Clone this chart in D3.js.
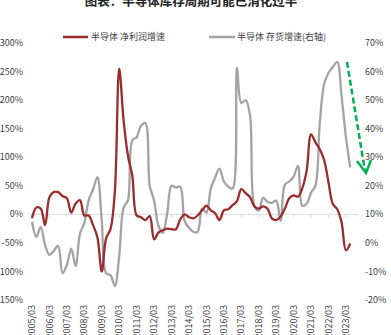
<!DOCTYPE html>
<html>
<head>
<meta charset="utf-8">
<script src="https://cdn.jsdelivr.net/npm/d3@7"></script>
<style>
  html, body { margin: 0; padding: 0; background: #fff; }
  svg { display: block; font-family: "Noto Sans CJK SC", "Noto Sans", sans-serif; }
</style>
</head>
<body>
<svg id="chart" width="391" height="335"></svg>
<script>
// Quarterly periods 2005/03 .. 2023/06
const startYear = 2005;
const quarterCount = 74;
const periods = d3.range(quarterCount).map(i => {
  const y = startYear + Math.floor(i / 4);
  const m = [3, 6, 9, 12][i % 4];
  return y + "/" + String(m).padStart(2, "0");
});

// 半导体 净利润增速 (%), left axis
const profitGrowth = [
  -7, 12, 10, -19, 30, 39, 39, 32, 28, 3,
  19, 25, -2, -2, -19, -40, -100, -42, -26, 40,
  255, 165, 103, 68, -2, -5, -10, -3, -44, -32,
  -28, -25, -26, -26, -9, 0, -5, -7, -2, 7,
  15, 7, 2, -10, 7, 9, 16, 23, 44, 37,
  30, 14, 10, 14, 10, -7, -10, -4, 10, 28,
  33, 31, 46, 77, 140, 126, 114, 95, 56, 18,
  9, -14, -63, -51
];

// 半导体 存货增速 (%), right axis
const inventoryGrowth = [
  7.4, 2.1, 5.6, -0.7, -4.2, -2.8, -1, -10.6, -7.7, -2,
  -8.1, 3.2, 7, 15, 18.7, 23, 7.7, -10.6, -11.3, -15.1,
  -4.6, 12.3, 15, 35.9, 37, 41, 42, 20, 14.8, 6,
  3.5, 10.2, 20, 19.4, 19.7, 7.7, 5.3, 3.9, 3.9, 12,
  10.6, 19, 22.9, 26, 21.5, 19.7, 19, 61.3, 49, 50,
  44.7, 13, 11.3, 15.8, 14.4, 14, 14.8, 7.7, 20.4, 21.5,
  23.2, 27, 13, 13.7, 17.6, 20, 42, 55.6, 59.5, 61.6,
  63.4, 51.4, 37, 26.4
];

const tickLabels = ["2005/03","2006/03","2007/03","2008/03","2009/03","2010/03",
  "2011/03","2012/03","2013/03","2014/03","2015/03","2016/03","2017/03",
  "2018/03","2019/03","2020/03","2021/03","2022/03","2023/03"];
const leftTicks = [300, 250, 200, 150, 100, 50, 0, -50, -100, -150];
const rightTicks = [70, 60, 50, 40, 30, 20, 10, 0, -10, -20];

const seriesNames = ["半导体 净利润增速", "半导体 存货增速(右轴)"];
const colors = ["#9a2c2e", "#a3a3a3"];

const svg = d3.select("#chart");
const plotTop = 43, plotBottom = 300;

const x = d3.scaleLinear().domain([0, quarterCount - 1]).range([32, 350.3]);
const yL = d3.scaleLinear().domain([-150, 300]).range([plotBottom, plotTop]);
const yR = d3.scaleLinear().domain([-20, 70]).range([plotBottom, plotTop]);

// Title (top part sits above the frame)
svg.append("text")
  .attr("x", 191).attr("y", 6)
  .attr("text-anchor", "middle")
  .attr("font-size", 12.5).attr("font-weight", "bold").attr("fill", "#222")
  .text("图表：半导体库存周期可能已消化过半");

// Legend
const legend = [{x0: 63, x1: 88, tx: 91}, {x0: 209, x1: 235, tx: 237}];
legend.forEach((l, k) => {
  svg.append("line").attr("x1", l.x0).attr("x2", l.x1).attr("y1", 37).attr("y2", 37)
    .attr("stroke", colors[k]).attr("stroke-width", 2.5);
  svg.append("text").attr("x", l.tx).attr("y", 37).attr("dy", "0.35em")
    .attr("font-size", 9).attr("fill", "#404040").text(seriesNames[k]);
});

// Left axis labels
svg.append("g").selectAll("text").data(leftTicks).join("text")
  .attr("x", 23).attr("y", d => yL(d)).attr("dy", "0.35em")
  .attr("text-anchor", "end").attr("font-size", 9).attr("fill", "#404040")
  .text(d => d + "%");

// Right axis labels
svg.append("g").selectAll("text").data(rightTicks).join("text")
  .attr("x", 365).attr("y", d => yR(d)).attr("dy", "0.35em")
  .attr("text-anchor", "start").attr("font-size", 9).attr("fill", "#404040")
  .text(d => d + "%");

// Zero line with category ticks
const zeroY = yL(0);
svg.append("line").attr("x1", 29).attr("x2", 358).attr("y1", zeroY).attr("y2", zeroY)
  .attr("stroke", "#d9d9d9").attr("stroke-width", 1);
const tickIdx = tickLabels.map(t => periods.indexOf(t));
svg.append("g").selectAll("line").data(tickIdx).join("line")
  .attr("x1", d => x(d)).attr("x2", d => x(d))
  .attr("y1", zeroY).attr("y2", zeroY + 3)
  .attr("stroke", "#d9d9d9");

// X labels, rotated
svg.append("g").selectAll("text").data(tickLabels).join("text")
  .attr("transform", d => `translate(${x(periods.indexOf(d))},305) rotate(-90)`)
  .attr("text-anchor", "end").attr("dy", "0.35em")
  .attr("font-size", 9).attr("fill", "#404040")
  .text(d => d);

// Series lines
const curve = d3.curveCatmullRom.alpha(0.5);
const lineL = d3.line().x((d, i) => x(i)).y(d => yL(d)).curve(curve);
const lineR = d3.line().x((d, i) => x(i)).y(d => yR(d)).curve(curve);

svg.append("path").datum(inventoryGrowth).attr("d", lineR)
  .attr("fill", "none").attr("stroke", colors[1]).attr("stroke-width", 2.3)
  .attr("stroke-linejoin", "round");
svg.append("path").datum(profitGrowth).attr("d", lineL)
  .attr("fill", "none").attr("stroke", colors[0]).attr("stroke-width", 2.3)
  .attr("stroke-linejoin", "round");

// Downward dashed arrow
const green = "#00b050";
svg.append("line").attr("x1", 347).attr("y1", 62).attr("x2", 365).attr("y2", 171)
  .attr("stroke", green).attr("stroke-width", 2.5).attr("stroke-dasharray", "6,3");
svg.append("polyline").attr("points", "357,161 366,173 371,160")
  .attr("fill", "none").attr("stroke", green).attr("stroke-width", 2.5);
</script>
</body>
</html>
